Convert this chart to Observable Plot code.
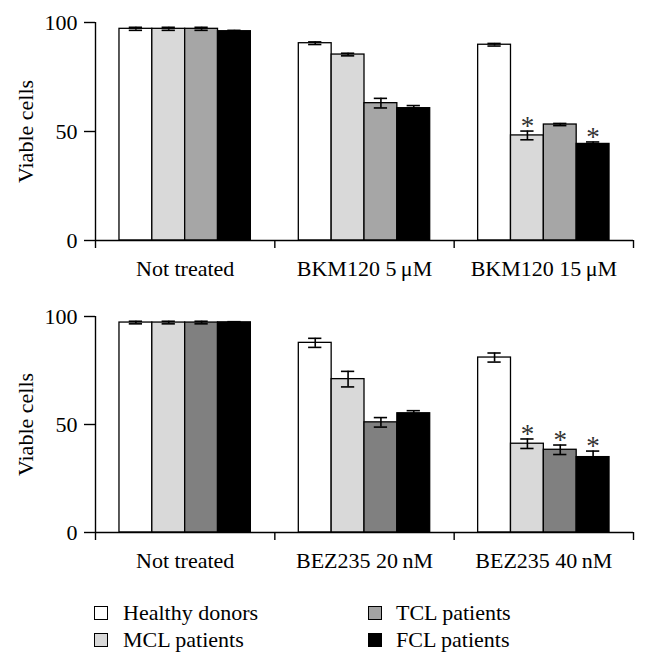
<!DOCTYPE html>
<html>
<head>
<meta charset="utf-8">
<script src="https://cdn.jsdelivr.net/npm/d3@7"></script>
<script src="https://cdn.jsdelivr.net/npm/@observablehq/plot@0.6"></script>
<style>
  html, body { margin: 0; padding: 0; background: #fff; }
  #wrap { width: 648px; font-family: "Liberation Serif", serif; }
  .legend { position: relative; width: 648px; height: 86px; }
  .item { position: absolute; display: flex; align-items: center; font-size: 22px; color: #000; }
  .sw { width: 12px; height: 12px; border: 1.3px solid #000; margin-right: 15px; }
</style>
</head>
<body>
<div id="wrap"></div>
<script>
// ---- data ----
const series = ["Healthy donors", "MCL patients", "TCL patients", "FCL patients"];
const groupsTop = ["Not treated", "BKM120 5\u2009\u03bcM", "BKM120 15\u2009\u03bcM"];
const groupsBottom = ["Not treated", "BEZ235 20\u2009nM", "BEZ235 40\u2009nM"];
const valuesTop = [[97.1, 97.1, 97.1, 96.0], [90.5, 85.3, 63.0, 60.7], [89.8, 48.2, 53.2, 44.3]];
const errorsTop = [[0.7, 0.7, 0.7, 0.4], [0.6, 0.6, 2.2, 1.2], [0.6, 2.0, 0.5, 0.9]];
const sigTop = [[0, 0, 0, 0], [0, 0, 0, 0], [0, 1, 0, 1]];
const valuesBottom = [[97.2, 97.2, 97.2, 97.3], [87.8, 71.0, 51.0, 55.2], [81.0, 41.1, 38.3, 34.9]];
const errorsBottom = [[0.6, 0.6, 0.6, 0.3], [2.1, 3.6, 2.2, 1.2], [2.1, 2.2, 2.2, 2.8]];
const sigBottom = [[0, 0, 0, 0], [0, 0, 0, 0], [0, 1, 1, 1]];
const yTicks = [0, 50, 100];
const colorsTop = ["#ffffff", "#d9d9d9", "#a6a6a6", "#000000"];
const colorsBottom = ["#ffffff", "#d9d9d9", "#808080", "#000000"];
const legendColors = ["#ffffff", "#d9d9d9", "#a3a3a3", "#000000"];

const FONT = "Liberation Serif, Times New Roman, serif";

function panel(groups, values, errors, sig, colors, marginTop, marginBottom) {
  const inner = d3.scaleBand().domain(d3.range(series.length)).range([0, 1]).paddingOuter(0.73).paddingInner(0);
  const bw = inner.bandwidth();
  const rows = [];
  groups.forEach((g, gi) => series.forEach((s, si) => {
    const x1 = gi + inner(si);
    rows.push({g, s, si, x1, x2: x1 + bw, xc: x1 + bw / 2,
      v: values[gi][si], e: errors[gi][si], sig: sig[gi][si], fill: colors[si]});
  }));
  const cap = 0.037;
  return Plot.plot({
    width: 648,
    height: 290,
    marginLeft: 95,
    marginRight: 15,
    marginTop,
    marginBottom,
    style: {fontFamily: FONT, fontSize: "22px", color: "#000", background: "#fff"},
    x: {domain: [0, groups.length], axis: null},
    y: {domain: [0, 100], axis: null},
    marks: [
      Plot.rectY(rows, {x1: "x1", x2: "x2", y1: 0, y2: "v", fill: d => d.fill, stroke: "#000", strokeWidth: 1.3}),
      Plot.ruleX(rows, {x: "xc", y1: d => d.v - d.e, y2: d => d.v + d.e, stroke: "#000", strokeWidth: 1.6}),
      Plot.ruleY(rows, {y: d => d.v + d.e, x1: d => d.xc - cap, x2: d => d.xc + cap, stroke: "#000", strokeWidth: 1.6}),
      Plot.ruleY(rows, {y: d => d.v - d.e, x1: d => d.xc - cap, x2: d => d.xc + cap, stroke: "#000", strokeWidth: 1.6}),
      Plot.text(rows.filter(d => d.sig), {x: "xc", y: d => d.v + d.e, text: () => "*", lineAnchor: "bottom", dy: 4, fontSize: 27, fill: "#333"}),
      Plot.ruleX([0], {y1: 0, y2: 100, strokeWidth: 1.4}),
      Plot.ruleY([0], {strokeWidth: 1.4}),
      Plot.axisY(yTicks, {tickSize: 11, tickPadding: 7, strokeWidth: 1.4, label: null, fontSize: 22, fill: "#000"}),
      Plot.axisX(d3.range(groups.length + 1), {tickSize: 8, tickFormat: () => "", strokeWidth: 1.4, label: null}),
      Plot.axisX(groups.map((g, i) => i + 0.5), {tickSize: 0, tickPadding: 20, tickFormat: d => groups[Math.floor(d)], label: null, fontSize: 22, fill: "#000"}),
      Plot.text(["Viable cells"], {text: d => d, frameAnchor: "left", textAnchor: "middle", rotate: -90, dx: -70, fontSize: 22, fill: "#000"})
    ]
  });
}

const wrap = document.getElementById("wrap");
wrap.appendChild(panel(groupsTop, valuesTop, errorsTop, sigTop, colorsTop, 22, 50));
wrap.appendChild(panel(groupsBottom, valuesBottom, errorsBottom, sigBottom, colorsBottom, 26, 48));

// legend
const legend = document.createElement("div");
legend.className = "legend";
const pos = [[94, 33], [94, 60], [368, 33], [368, 60]];
series.forEach((s, i) => {
  const it = document.createElement("div");
  it.className = "item";
  it.style.left = pos[i][0] + "px";
  it.style.top = (pos[i][1] - 14) + "px";
  it.style.height = "28px";
  const sw = document.createElement("div");
  sw.className = "sw";
  sw.style.background = legendColors[i];
  if (i >= 2) sw.style.marginRight = "14px";
  const t = document.createElement("span");
  t.textContent = s;
  it.appendChild(sw);
  it.appendChild(t);
  legend.appendChild(it);
});
wrap.appendChild(legend);
</script>
</body>
</html>
